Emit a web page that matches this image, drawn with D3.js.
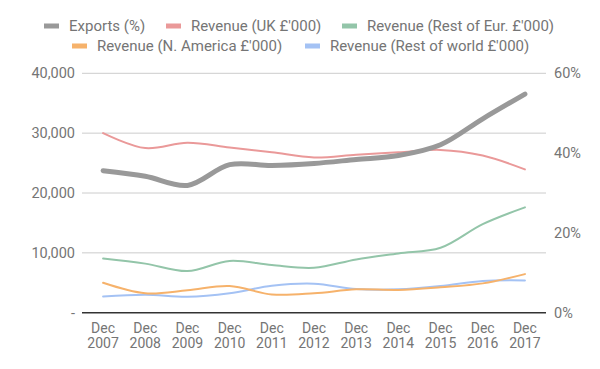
<!DOCTYPE html>
<html>
<head>
<meta charset="utf-8">
<script src="https://cdn.jsdelivr.net/npm/d3@7"></script>
<style>
  html, body { margin: 0; padding: 0; background: #fff; }
  svg { display: block; font-family: Roboto, "Noto Sans", sans-serif; }
</style>
</head>
<body>
<svg id="chart" width="600" height="369"></svg>
<script>
const categories = ["Dec 2007","Dec 2008","Dec 2009","Dec 2010","Dec 2011","Dec 2012","Dec 2013","Dec 2014","Dec 2015","Dec 2016","Dec 2017"];
const exportsPct = [35.6, 34.2, 31.9, 37.1, 36.9, 37.4, 38.4, 39.4, 42.1, 48.6, 54.8];
const revenueUK = [30000, 27500, 28400, 27600, 26800, 25950, 26400, 26800, 27200, 26250, 23950];
const revenueEur = [9050, 8200, 6950, 8650, 7950, 7500, 8900, 9900, 10850, 14800, 17600];
const revenueNA = [5000, 3250, 3750, 4450, 3050, 3250, 3900, 3800, 4250, 4900, 6450];
const revenueRoW = [2700, 3000, 2650, 3250, 4500, 4850, 3950, 3900, 4450, 5300, 5400];
const leftTicks = [0, 10000, 20000, 30000, 40000];
const leftTickLabels = ["-", "10,000", "20,000", "30,000", "40,000"];
const rightTicks = [0, 20, 40, 60];
const rightTickLabels = ["0%", "20%", "40%", "60%"];
const seriesNames = ["Exports (%)", "Revenue (UK £'000)", "Revenue (Rest of Eur. £'000)", "Revenue (N. America £'000)", "Revenue (Rest of world £'000)"];

const colors = ["#999999", "#ea9999", "#93c5a9", "#f6b26b", "#a4c2f4"];
const widths = [5, 2, 2, 2, 2];

(function () {
const svg = d3.select("#chart");
const pLeft = 82, pRight = 546, pTop = 73.3, pBottom = 312.7;
const textColor = "#757575";

const x = d3.scalePoint().domain(categories).range([pLeft, pRight]).padding(0.5);
const yL = d3.scaleLinear().domain([0, 40000]).range([pBottom, pTop]);
const yR = d3.scaleLinear().domain([0, 60]).range([pBottom, pTop]);

svg.append("g").selectAll("line").data(leftTicks.slice(1)).join("line")
  .attr("x1", pLeft).attr("x2", pRight)
  .attr("y1", d => yL(d)).attr("y2", d => yL(d))
  .attr("stroke", "#cccccc").attr("stroke-width", 1);

svg.append("g").selectAll("text").data(leftTicks).join("text")
  .attr("x", 75).attr("y", d => yL(d)).attr("dy", "0.35em")
  .attr("text-anchor", "end").attr("font-size", 14.5).attr("fill", textColor)
  .text((d, i) => leftTickLabels[i]);

svg.append("g").selectAll("text").data(rightTicks).join("text")
  .attr("x", 554).attr("y", d => yR(d)).attr("dy", "0.35em")
  .attr("text-anchor", "start").attr("font-size", 14.5).attr("fill", textColor)
  .text((d, i) => rightTickLabels[i]);

const xl = svg.append("g").selectAll("text").data(categories).join("text")
  .attr("x", d => x(d)).attr("y", 333)
  .attr("text-anchor", "middle").attr("font-size", 14).attr("fill", textColor);
xl.append("tspan").attr("x", d => x(d)).text(d => d.split(" ")[0]);
xl.append("tspan").attr("x", d => x(d)).attr("dy", 15).text(d => d.split(" ")[1]);

const allSeries = [
  {vals: exportsPct, y: yR},
  {vals: revenueUK, y: yL},
  {vals: revenueEur, y: yL},
  {vals: revenueNA, y: yL},
  {vals: revenueRoW, y: yL}
];
const drawOrder = [4, 3, 2, 1, 0];
drawOrder.forEach(i => {
  const s = allSeries[i];
  const line = d3.line()
    .x((d, j) => x(categories[j]))
    .y(d => s.y(d))
    .curve(d3.curveCatmullRom.alpha(0.5));
  svg.append("path").datum(s.vals)
    .attr("d", line)
    .attr("fill", "none")
    .attr("stroke", colors[i])
    .attr("stroke-width", widths[i])
    .attr("stroke-linejoin", "round")
    .attr("stroke-linecap", "round");
});

svg.append("line").attr("x1", pLeft).attr("x2", pRight)
  .attr("y1", pBottom).attr("y2", pBottom)
  .attr("stroke", "#333333").attr("stroke-width", 1.5);

const legendPos = [[44, 26], [166, 26], [342, 26], [72, 46], [305, 46]];
const lg = svg.append("g");
seriesNames.forEach((name, i) => {
  const [lx, ly] = legendPos[i];
  lg.append("rect").attr("x", lx).attr("y", ly - 2.5).attr("width", 15).attr("height", 5)
    .attr("fill", colors[i]);
  lg.append("text").attr("x", lx + 25).attr("y", ly).attr("dy", "0.35em")
    .attr("font-size", 15).attr("fill", textColor).text(name);
});
})();
</script>
</body>
</html>
